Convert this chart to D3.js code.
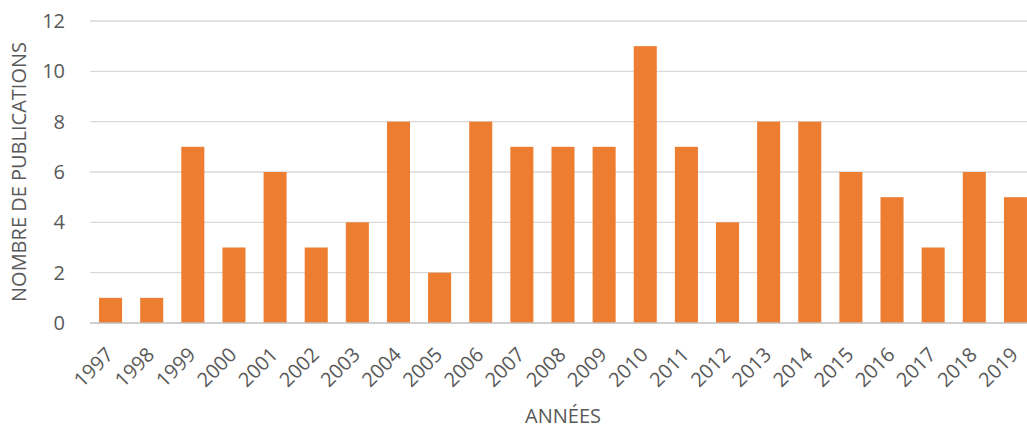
<!DOCTYPE html>
<html><head><meta charset="utf-8">
<script src="https://cdn.jsdelivr.net/npm/d3@7"></script>
<style>
html,body{margin:0;padding:0;background:#fff;overflow:hidden;}
text{font-family:"Open Sans","DejaVu Sans",sans-serif;fill:#595959;}
</style></head>
<body><svg id="c" width="1027" height="430"></svg>
<script>
const years = ["1997","1998","1999","2000","2001","2002","2003","2004","2005","2006","2007","2008","2009","2010","2011","2012","2013","2014","2015","2016","2017","2018","2019"];
const publications = [1,1,7,3,6,3,4,8,2,8,7,7,7,11,7,4,8,8,6,5,3,6,5];
const yTicks = [0,2,4,6,8,10,12];

const svg = d3.select("#c");
const x = d3.scaleBand().domain(years).range([90, 1036]).paddingInner(0.44).paddingOuter(0.22);
const y = d3.scaleLinear().domain([0, 12]).range([323, 21]);

// grid
svg.append("g").selectAll("line").data(yTicks.filter(d => d > 0)).join("line")
  .attr("x1", 90).attr("x2", 1036)
  .attr("y1", d => y(d)).attr("y2", d => y(d))
  .attr("stroke", "#d9d9d9").attr("stroke-width", 1.3);

// bars
svg.append("g").selectAll("rect").data(years).join("rect")
  .attr("x", d => x(d)).attr("width", x.bandwidth())
  .attr("y", (d, i) => y(publications[i]))
  .attr("height", (d, i) => y(0) - y(publications[i]))
  .attr("fill", "#ED7D31");

// baseline
svg.append("line").attr("x1", 90).attr("x2", 1036).attr("y1", y(0)).attr("y2", y(0))
  .attr("stroke", "#bfbfbf").attr("stroke-width", 1.5);

// y axis
const ya = svg.append("g").attr("transform", "translate(90,0)")
  .call(d3.axisLeft(y).tickValues(yTicks).tickSize(0).tickPadding(25));
ya.select(".domain").remove();
ya.selectAll("text").style("font-size", "20px").attr("fill", "#595959");

// x axis
const xa = svg.append("g").attr("transform", `translate(0,${y(0)})`)
  .call(d3.axisBottom(x).tickSize(0));
xa.select(".domain").remove();
xa.selectAll("text")
  .style("font-size", "20px").attr("fill", "#595959")
  .style("text-anchor", "end")
  .attr("dy", null).attr("y", 0)
  .attr("transform", "translate(4,33) rotate(-45)");

// titles
svg.append("text").attr("transform", "translate(26,172) rotate(-90)")
  .attr("text-anchor", "middle").style("font-size", "20px").text("NOMBRE DE PUBLICATIONS");
svg.append("text").attr("x", 563).attr("y", 423)
  .attr("text-anchor", "middle").style("font-size", "20px").text("ANNÉES");
</script></body></html>
